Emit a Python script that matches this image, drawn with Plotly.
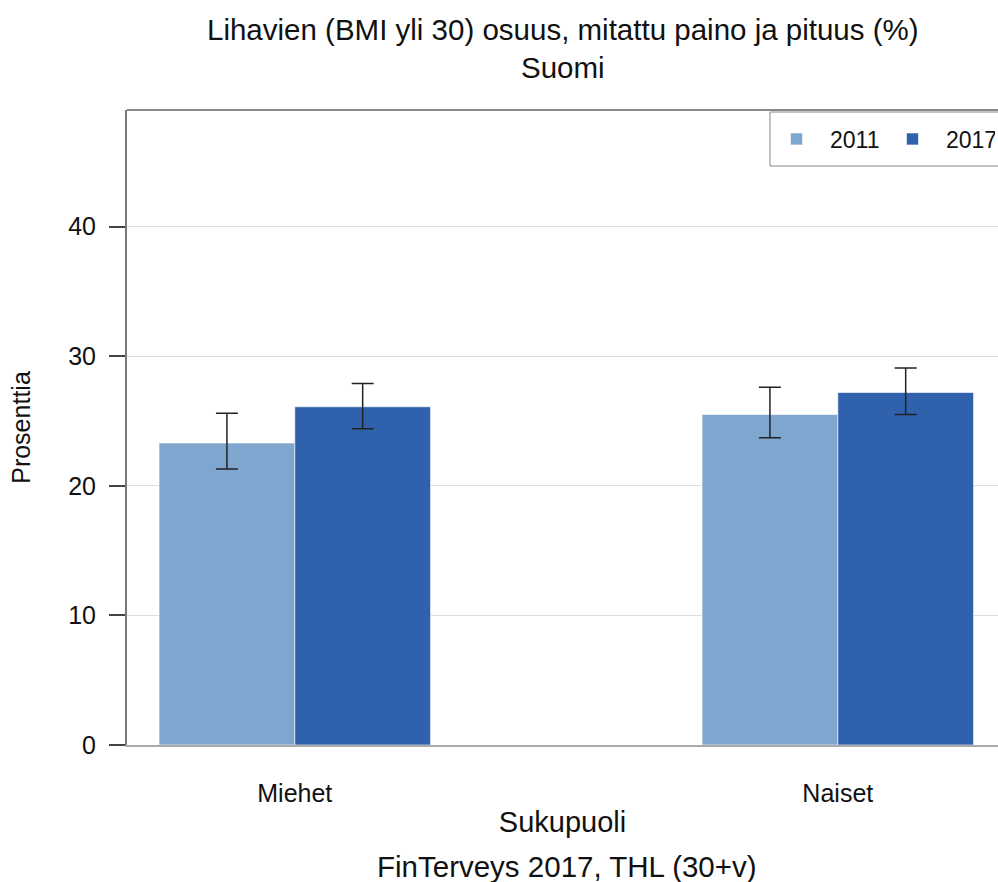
import plotly.graph_objects as go

categories = ["Miehet", "Naiset"]
years = ["2011", "2017"]
values_2011 = [23.3, 25.5]
low_2011 = [21.3, 23.7]
high_2011 = [25.6, 27.6]
values_2017 = [26.1, 27.2]
low_2017 = [24.4, 25.5]
high_2017 = [27.9, 29.1]
colors = ["#7FA6CE", "#2F61AC"]

FONT = "Liberation Sans, Arial, sans-serif"
W, H = 998, 882
ML, MR, MT, MB = 127, 0, 110, 137
PW = W - ML - MR
PH = H - MT - MB


def py(p):
    # page pixel from top -> paper y
    return (H - MB - p) / PH


def px(p):
    # page pixel from left -> paper x
    return (p - ML) / PW


fig = go.Figure()
for name, vals, lo, hi, col in [
    (years[0], values_2011, low_2011, high_2011, colors[0]),
    (years[1], values_2017, low_2017, high_2017, colors[1]),
]:
    fig.add_trace(go.Bar(
        x=categories, y=vals, name=name,
        marker=dict(color=col, line=dict(color="rgba(255,255,255,0.6)", width=1)),
        error_y=dict(type="data", symmetric=False,
                     array=[h - v for h, v in zip(hi, vals)],
                     arrayminus=[v - l for l, v in zip(lo, vals)],
                     color="#222222", thickness=1.5, width=11),
    ))

fig.update_layout(
    width=W, height=H,
    margin=dict(l=ML, r=MR, t=MT, b=MB, autoexpand=False),
    paper_bgcolor="white", plot_bgcolor="white",
    font=dict(family=FONT, color="#111111"),
    barmode="group", bargap=0.5, bargroupgap=0,
    legend=dict(orientation="h", x=px(763), xanchor="left",
                y=py(139), yanchor="middle",
                borderwidth=0, bgcolor="rgba(0,0,0,0)",
                font=dict(size=23, family=FONT, color="#111111"),
                itemwidth=57, entrywidth=44),
    showlegend=True,
)
fig.update_xaxes(
    range=[-0.309, 1.295], showline=True, linecolor="#aaaaaa", linewidth=2, mirror=False,
    ticks="outside", ticklen=25, tickcolor="rgba(0,0,0,0)",
    tickfont=dict(size=25, family=FONT, color="#111111"),
    title=dict(text="Sukupuoli", font=dict(size=29, family=FONT, color="#111111"), standoff=6),
    showgrid=False,
)
fig.update_yaxes(
    range=[0, 49], tickvals=[0, 10, 20, 30, 40],
    showline=True, linecolor="#777777", linewidth=2,
    ticks="outside", ticklen=16, tickcolor="#444444", tickwidth=1.5,
    tickfont=dict(size=25, family=FONT, color="#111111"),
    ticklabelstandoff=8,
    showgrid=True, gridcolor="#dddddd", gridwidth=1, zeroline=False,
    title=dict(text="Prosenttia", font=dict(size=25, family=FONT, color="#111111"), standoff=30),
)
# top border line of the plot frame
fig.add_shape(type="line", xref="paper", yref="paper", x0=0, x1=1, y0=1, y1=1,
              line=dict(color="#888888", width=2))
# legend frame (runs past the right edge as in the reference)
fig.add_shape(type="rect", xref="paper", yref="paper",
              x0=px(770), x1=px(1020), y0=py(112), y1=py(166),
              line=dict(color="#888888", width=1), fillcolor="rgba(0,0,0,0)", layer="above")
fig.add_annotation(text="Lihavien (BMI yli 30) osuus, mitattu paino ja pituus (%)<br>Suomi",
                   xref="paper", yref="paper", x=0.5, y=py(49),
                   xanchor="center", yanchor="middle", showarrow=False,
                   font=dict(size=29.5, family=FONT, color="#111111"))
fig.add_annotation(text="FinTerveys 2017, THL (30+v)", xref="paper", yref="paper",
                   x=px(567), y=py(866), xanchor="center", yanchor="middle",
                   showarrow=False, font=dict(size=29.5, family=FONT, color="#111111"))

fig.write_html("out.html",
               config={"displayModeBar": False},
               post_script="document.body.style.margin='0';document.body.style.overflow='hidden';")
